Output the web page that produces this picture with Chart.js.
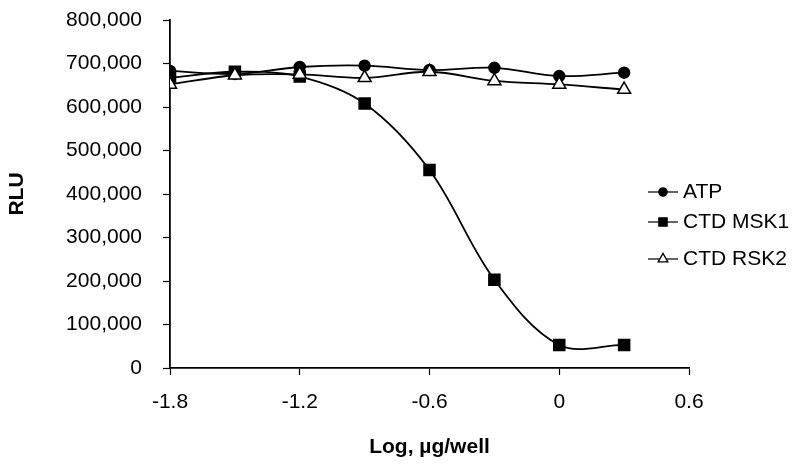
<!DOCTYPE html>
<html>
<head>
<meta charset="utf-8">
<script src="https://cdn.jsdelivr.net/npm/chart.js@4"></script>
<style>
  html, body { margin: 0; padding: 0; background: #fff; }
  #wrap { width: 800px; height: 470px; position: relative; }
</style>
</head>
<body>
<div id="wrap"><canvas id="chart"></canvas></div>
<script>
// data
const logDose = [-1.8, -1.5, -1.2, -0.9, -0.6, -0.3, 0, 0.3];
const atp     = [683000, 676000, 692000, 695000, 685000, 690000, 671000, 679000];
const ctdMsk1 = [667000, 681000, 670000, 608000, 455000, 203000, 53000, 53000];
const ctdRsk2 = [652000, 673000, 675000, 667000, 681000, 660000, 652000, 640000];
const seriesNames = ["ATP", "CTD MSK1", "CTD RSK2"];
const xTicks = [-1.8, -1.2, -0.6, 0, 0.6];
const yMax = 800000;

const FONT = "'Liberation Sans', Arial, sans-serif";

const pts = (ys) => logDose.map((x, i) => ({ x: x, y: ys[i] }));

const styles = [
    { pointStyle: "circle", radius: 5.5, fill: "#000", order: 2 },
    { pointStyle: "rect", radius: 7.8, fill: "#000", order: 1 },
    { pointStyle: "triangle", radius: 7.5, fill: "#fff", order: 0 }
];

const datasets = [atp, ctdMsk1, ctdRsk2].map((ys, i) => ({
    label: seriesNames[i],
    data: pts(ys),
    borderColor: "#000",
    borderWidth: 1.8,
    backgroundColor: styles[i].fill,
    pointStyle: styles[i].pointStyle,
    pointRadius: styles[i].radius,
    pointBackgroundColor: styles[i].fill,
    pointBorderColor: "#000",
    pointBorderWidth: 1.5,
    tension: 0.35,
    order: styles[i].order
}));

// legend drawn at the right, like the original figure
const sideLegend = {
    id: "sideLegend",
    afterDraw(chart) {
        const ctx = chart.ctx;
        const rows = [192, 222, 259];
        ctx.save();
        seriesNames.forEach((name, i) => {
            const y = rows[i];
            ctx.strokeStyle = "#000";
            ctx.lineWidth = 1.2;
            ctx.beginPath();
            ctx.moveTo(648, y);
            ctx.lineTo(678, y);
            ctx.stroke();
            ctx.fillStyle = styles[i].fill;
            ctx.lineWidth = 1.3;
            Chart.helpers.drawPoint(ctx, {
                pointStyle: styles[i].pointStyle,
                radius: styles[i].radius * 0.75,
                rotation: 0,
                borderWidth: 1.3
            }, 663, y);
            ctx.fillStyle = "#000";
            ctx.font = "21px " + FONT;
            ctx.textBaseline = "middle";
            ctx.textAlign = "left";
            ctx.fillText(name, 683, y);
        });
        ctx.restore();
    }
};

new Chart(document.getElementById("chart"), {
    type: "line",
    data: { datasets: datasets },
    options: {
        responsive: true,
        maintainAspectRatio: false,
        animation: false,
        layout: { padding: { top: 20, right: 111, left: 0, bottom: 0 } },
        plugins: { legend: { display: false }, tooltip: { enabled: false } },
        scales: {
            x: {
                type: "linear",
                min: xTicks[0],
                max: xTicks[xTicks.length - 1],
                afterFit: (s) => { s.height = 102; s.paddingLeft = 0; s.paddingRight = 0; },
                afterBuildTicks: (s) => { s.ticks = xTicks.map(v => ({ value: v })); },
                ticks: {
                    color: "#000",
                    font: { family: FONT, size: 21 },
                    padding: 15,
                    maxRotation: 0,
                    callback: (v) => String(Number(Number(v).toFixed(1)))
                },
                grid: { drawOnChartArea: false, color: "#000", tickLength: 7, tickWidth: 1.2 },
                border: { display: true, color: "#000", width: 1.8 },
                title: {
                    display: true,
                    text: "Log, µg/well",
                    color: "#000",
                    font: { family: FONT, size: 21, weight: "bold" },
                    padding: { top: 4, bottom: 10 }
                }
            },
            y: {
                min: 0,
                max: yMax,
                afterFit: (s) => { s.width = 170; s.paddingTop = 0; s.paddingBottom = 0; },
                ticks: {
                    stepSize: 100000,
                    color: "#000",
                    font: { family: FONT, size: 21 },
                    padding: 21,
                    callback: (v) => Number(v).toLocaleString("en-US")
                },
                grid: { drawOnChartArea: false, color: "#000", tickLength: 7, tickWidth: 1.2 },
                border: { display: true, color: "#000", width: 1.8 },
                title: {
                    display: true,
                    text: "RLU",
                    color: "#000",
                    font: { family: FONT, size: 21, weight: "bold" },
                    padding: { top: 4.5, bottom: 4 }
                }
            }
        }
    },
    plugins: [sideLegend]
});
</script>
</body>
</html>
